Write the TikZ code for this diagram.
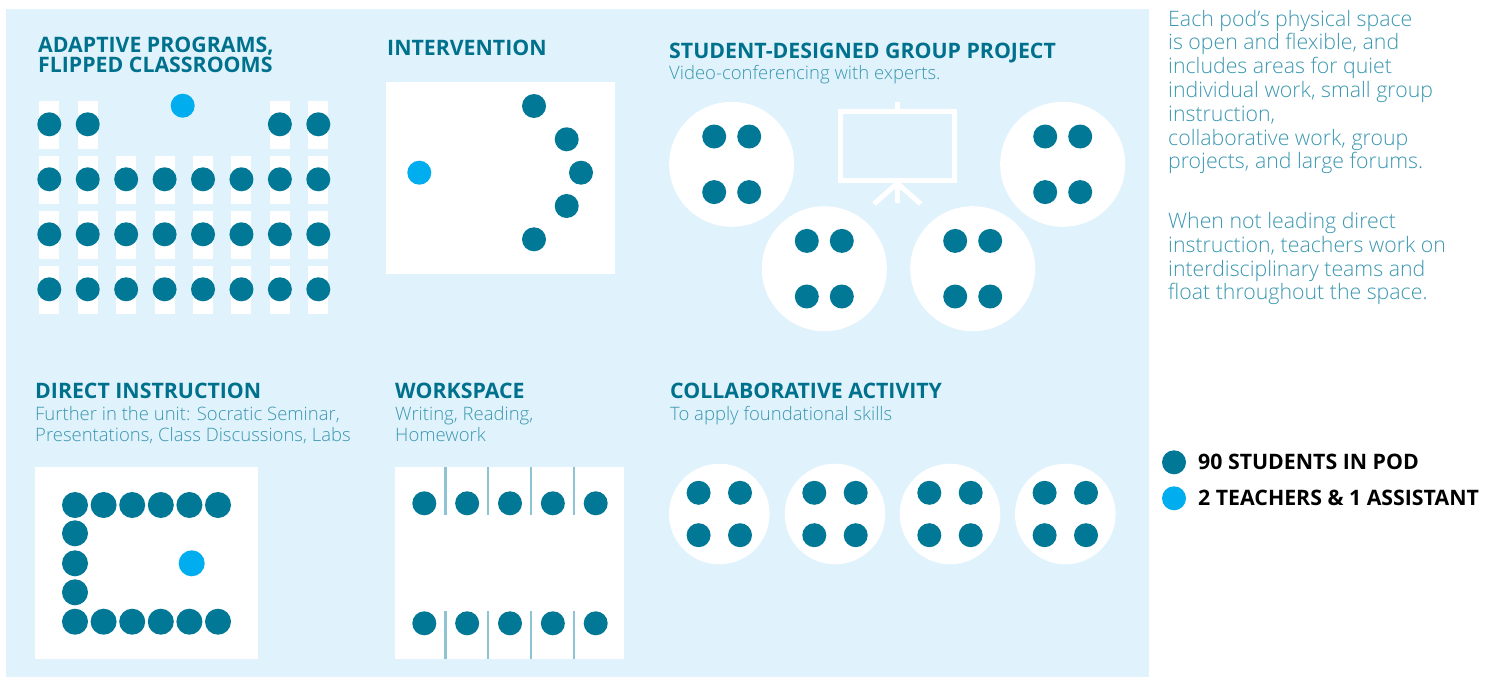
\documentclass[tikz,border=0pt]{standalone}
\usepackage{fontspec}
\setmainfont{Open Sans}
\newfontfamily\lightfont{Open Sans Light}
\usetikzlibrary{positioning}

\definecolor{podbg}{HTML}{E0F2FC}
\definecolor{studteal}{HTML}{007896}
\definecolor{teachblue}{HTML}{00AEEF}
\definecolor{headteal}{HTML}{00718D}
\definecolor{bodyteal}{HTML}{3A97B0}
\definecolor{partition}{HTML}{8EC3D3}

\begin{document}
\begin{tikzpicture}[
		x=1pt, y=-1pt,
		stud/.style={circle, fill=studteal, inner sep=0pt, minimum size=24pt},
		teach/.style={circle, fill=teachblue, inner sep=0pt, minimum size=24pt},
		gtable/.style={circle, fill=white, inner sep=0pt},
		head/.style={anchor=north west, inner sep=0pt, align=left, text=headteal, font=\fontsize{21.3}{20}\selectfont\bfseries},
		sub/.style={anchor=north west, inner sep=0pt, align=left, text=bodyteal, font=\lightfont\fontsize{18.5}{21.7}\selectfont},
		note/.style={anchor=north west, inner sep=0pt, align=left, text=bodyteal, font=\lightfont\fontsize{21.3}{23.8}\selectfont},
		key/.style={anchor=base west, inner sep=0pt, font=\fontsize{21.3}{22}\selectfont\bfseries},
		partwall/.style={draw=partition, line width=2.5pt},
		board/.style={draw=white, line width=5pt}
	]
		\useasboundingbox (0,0) rectangle (1496,677);
		\fill[podbg] (6,9) rectangle (1149,677);

		% Adaptive programs, flipped classrooms
		\node[head] (ap-title) at (38,37) {ADAPTIVE PROGRAMS,\\FLIPPED CLASSROOMS};
		\foreach \c in {0,1,6,7} {
			\fill[white] ({49.3+38.43*\c-10},101) rectangle +(20,48);
			\node[stud] (ap-0-\c) at ({49.3+38.43*\c},124.3) {};
		}
		\foreach \r in {1,2,3}
			\foreach \c in {0,...,7} {
				\fill[white] ({49.3+38.43*\c-10},{156+55*(\r-1)}) rectangle +(20,48);
				\node[stud] (ap-\r-\c) at ({49.3+38.43*\c},{179.3+55*(\r-1)}) {};
			}
		\node[teach] (ap-t) at (182.7,105.7) {};

		% Intervention
		\node[head] (iv-title) at (387,39.7) {INTERVENTION};
		\fill[white] (386,81.7) rectangle (615,274);
		\foreach \i/\px/\py in {1/534/106, 2/566.7/139.3, 3/581/172.7, 4/566.7/206, 5/534/239.3}
			\node[stud] (iv-\i) at (\px,\py) {};
		\node[teach] (iv-t) at (419.3,172.7) {};

		% Student-designed group project
		\node[head] (sg-title) at (669,43) {STUDENT-DESIGNED GROUP PROJECT};
		\node[sub] (sg-sub) at (669,65.2) {Video-conferencing with experts.};
		\foreach \n/\cx/\cy in {1/731.7/164.3, 2/824.3/268.7, 3/972.7/268.7, 4/1062.7/164.3} {
			\node[gtable, minimum size=125pt] (sg-\n) at (\cx,\cy) {};
			\foreach \dx/\dy/\k in {-17.5/-27.8/a, 17.5/-27.8/b, -17.5/27.8/c, 17.5/27.8/d}
				\node[stud] (sg-\n-\k) at (\cx+\dx,\cy+\dy) {};
		}
		\draw[board] (840.8,111.8) rectangle (954.2,180.8);
		\draw[board] (897.3,101.7) -- (897.3,109.3);
		\draw[board] (897.3,183.3) -- (897.3,203);
		\draw[board] (897.3,183.3) -- (874,204);
		\draw[board] (897.3,183.3) -- (920.7,204);

		% Notes
		\node[note] (note-a) at (1168,9.8) {Each pod’s physical space\\is open and flexible, and\\includes areas for quiet\\individual work, small group\\instruction,\\collaborative work, group\\projects, and large forums.};
		\node[note] (note-b) at (1168,212.1) {When not leading direct\\instruction, teachers work on\\interdisciplinary teams and\\float throughout the space.};

		% Direct instruction
		\node[head] (di-title) at (35,383) {DIRECT INSTRUCTION};
		\node[sub] (di-sub) at (35,406) {Further in the unit: Socratic Seminar,\\Presentations, Class Discussions, Labs};
		\fill[white] (35,467.3) rectangle (257.7,658.7);
		\foreach \c in {0,...,5} {
			\node[stud, minimum size=26pt] (di-top-\c) at ({75+28.6*\c},505) {};
			\node[stud, minimum size=26pt] (di-bot-\c) at ({75+28.6*\c},621.7) {};
		}
		\foreach \i/\py in {1/533.3, 2/563.3, 3/592.3}
			\node[stud, minimum size=26pt] (di-side-\i) at (75,\py) {};
		\node[teach, minimum size=26pt] (di-t) at (191.7,563.3) {};

		% Workspace
		\node[head] (ws-title) at (395,383) {WORKSPACE};
		\node[sub] (ws-sub) at (395,406) {Writing, Reading,\\Homework};
		\fill[white] (395,467.3) rectangle (624,658.7);
		\foreach \c in {0,...,4} {
			\node[stud] (ws-top-\c) at ({424.3+42.85*\c},503.3) {};
			\node[stud] (ws-bot-\c) at ({424.3+42.85*\c},623.3) {};
		}
		\foreach \c in {0,...,3} {
			\draw[partwall] ({445.3+42.9*\c},467.3) -- ({445.3+42.9*\c},515);
			\draw[partwall] ({445.3+42.9*\c},611) -- ({445.3+42.9*\c},658.7);
		}

		% Collaborative activity
		\node[head] (ca-title) at (670,383) {COLLABORATIVE ACTIVITY};
		\node[sub] (ca-sub) at (670,406) {To apply foundational skills};
		\foreach \n/\cx in {1/719.3, 2/835, 3/950, 4/1065.3} {
			\node[gtable, minimum size=100.6pt] (ca-\n) at (\cx,514) {};
			\foreach \dx/\dy/\k in {-20.7/-21.2/a, 20.7/-21.2/b, -20.7/21.2/c, 20.7/21.2/d}
				\node[stud] (ca-\n-\k) at (\cx+\dx,514+\dy) {};
		}

		% Legend
		\node[stud] (key-s) at (1174,462.3) {};
		\node[teach] (key-t) at (1174,498.3) {};
		\node[key] (key-s-text) at (1198,469.3) {90 STUDENTS IN POD};
		\node[key] (key-t-text) at (1198,505) {2 TEACHERS \& 1 ASSISTANT};
	\end{tikzpicture}
\end{document}
